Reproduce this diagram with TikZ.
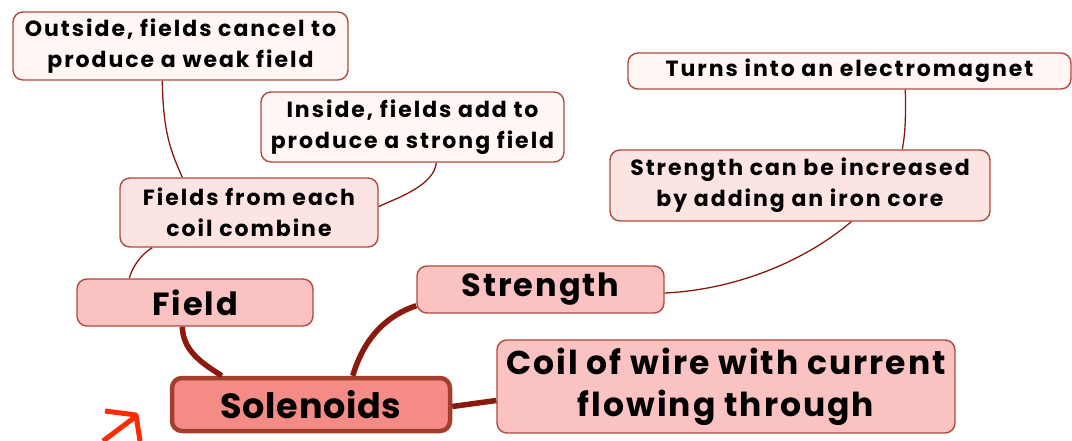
\documentclass[tikz,border=0pt]{standalone}
\usepackage{fontspec}
\setmainfont{Poppins}
\newfontfamily\smallhand[LetterSpace=9]{Poppins}
\newfontfamily\bighand[LetterSpace=6]{Poppins}
\newfontfamily\hubhand[LetterSpace=2]{Poppins}
\usetikzlibrary{calc}
\definecolor{edge}{HTML}{B04A3C}
\definecolor{link}{HTML}{8B1A0E}
\definecolor{paleA}{HTML}{FFF6F5}
\definecolor{paleB}{HTML}{FCE4E3}
\definecolor{paleC}{HTML}{FAC3C2}
\definecolor{core}{HTML}{F48B85}
\definecolor{coreedge}{HTML}{A33D2C}
\definecolor{penred}{HTML}{FF2A00}
\tikzset{
  card/.style={draw=edge, line width=1.4pt, rounded corners=10pt, inner sep=0pt,
    align=center, text=black},
  leaf/.style={card, fill=paleA, font=\smallhand\bfseries\fontsize{22}{31}\selectfont},
  twig/.style={card, fill=paleB, font=\smallhand\bfseries\fontsize{22}{31}\selectfont},
  branch/.style={card, fill=paleC, font=\bighand\bfseries\fontsize{32}{36}\selectfont},
  wide/.style={card, fill=paleC, font=\bighand\bfseries\fontsize{33}{42}\selectfont},
  hub/.style={card, fill=core, draw=coreedge, line width=4.5pt,
    font=\hubhand\bfseries\fontsize{35}{40}\selectfont},
  thin/.style={draw=link, line width=1.3pt},
  thick/.style={draw=link, line width=5.5pt},
  penstroke/.style={draw=penred, line width=5pt, line join=round},
}
\begin{document}
\begin{tikzpicture}[x=1pt,y=-1pt]
\useasboundingbox (0,0) rectangle (1072,441);

% ideas around the centre
\node[leaf, minimum width=335pt, minimum height=68pt] (out) at (180.5,46)
  {Outside, fields cancel to\\produce a weak field};
\node[leaf, minimum width=303pt, minimum height=70pt] (ins) at (412.5,127)
  {Inside, fields add to\\produce a strong field};
\node[twig, minimum width=258pt, minimum height=69pt] (fld) at (249,212.5)
  {Fields from each\\coil combine};
\node[branch, minimum width=236pt, minimum height=47pt] (field) at (195,302.5) {Field};
\node[hub, minimum width=278pt, minimum height=53pt] (sol) at (311,404.5) {Solenoids};
\node[branch, minimum width=247pt, minimum height=47pt] (str) at (540.5,289.5) {Strength};
\node[wide, minimum width=458pt, minimum height=93pt] (coil) at (726,386.5)
  {Coil of wire with current\\flowing through};
\node[leaf, minimum width=443pt, minimum height=36pt] (turns) at (849.5,71)
  {Turns into an electromagnet};
\node[twig, minimum width=380pt, minimum height=71pt] (strc) at (800,185.5)
  {Strength can be increased\\by adding an iron core};

% connectors
\draw[thin] ($(out.south west)+(150,0)$) .. controls (163,130) and (170,150) .. ($(fld.north west)+(63,0)$);
\draw[thin] ($(ins.south west)+(176,0)$) .. controls (434,185) and (400,197) .. ($(fld.east)+(0,-6)$);
\draw[thin] ($(fld.south west)+(33,0)$) .. controls (140,255) and (132,268) .. ($(field.north west)+(53,0)$);
\draw[thick] ($(field.south west)+(106,0)$) .. controls (183,350) and (200,362) .. ($(sol.north west)+(52,0)$);
\draw[thick] ($(sol.north west)+(183,0)$) .. controls (362,345) and (380,318) .. ($(str.south west)+(0,-8)$);
\draw[thick] ($(sol.east)+(0,2)$) -- ($(coil.west)+(0,14)$);
\draw[thin] ($(str.east)+(0,3.5)$) .. controls (730,290) and (800,265) .. ($(strc.south west)+(242,0)$);
\draw[thin] ($(turns.south west)+(278,0)$) .. controls (906,120) and (905,135) .. ($(strc.north west)+(293,0)$);

% red pen mark in the corner
\draw[penstroke] (105,411) -- (136,415) -- (140,441);
\draw[penstroke] (103,441) -- (135,417);
\end{tikzpicture}
\end{document}
